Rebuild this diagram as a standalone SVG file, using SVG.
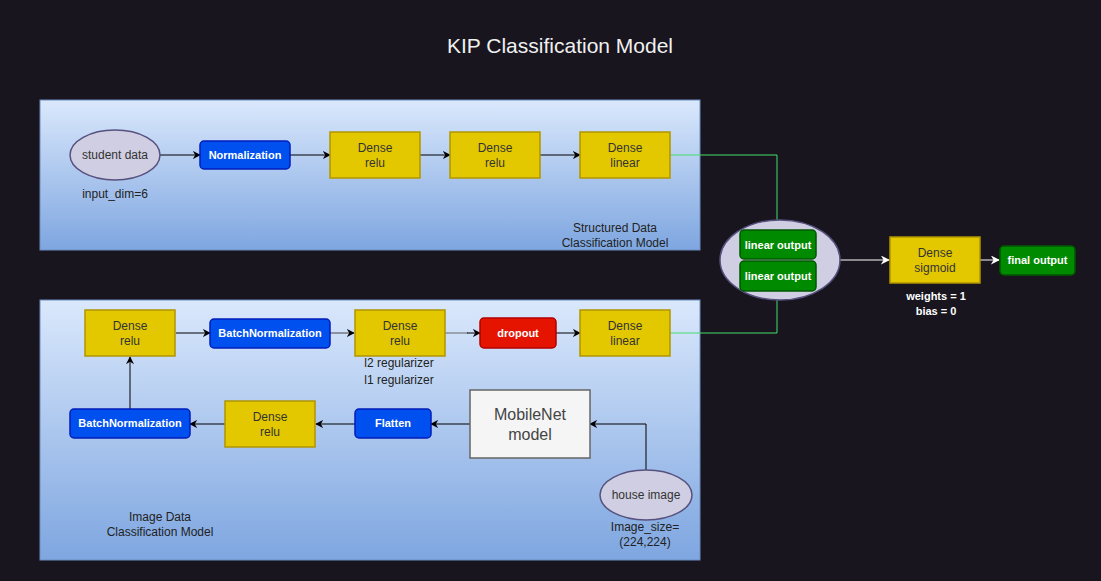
<svg xmlns="http://www.w3.org/2000/svg" width="1101" height="581" viewBox="0 0 1101 581">
<defs>
<linearGradient id="panelGrad" x1="0" y1="0" x2="0" y2="1">
<stop offset="0" stop-color="#dae8fc"/>
<stop offset="1" stop-color="#7ea6e0"/>
</linearGradient>
<marker id="arrBlack" viewBox="0 0 10 10" refX="9" refY="5" markerWidth="8" markerHeight="8" markerUnits="userSpaceOnUse" orient="auto">
<path d="M0,0 L10,5 L0,10 L3,5 z" fill="#000"/>
</marker>
<marker id="arrWhite" viewBox="0 0 10 10" refX="9" refY="5" markerWidth="9" markerHeight="9" markerUnits="userSpaceOnUse" orient="auto">
<path d="M0,0 L10,5 L0,10 L3,5 z" fill="#fff"/>
</marker>
<marker id="arrGreen" viewBox="0 0 10 10" refX="9" refY="5" markerWidth="9" markerHeight="9" markerUnits="userSpaceOnUse" orient="auto">
<path d="M0,0 L10,5 L0,10 L3,5 z" fill="#3ef06a"/>
</marker>
</defs>
<style>
text{font-family:"Liberation Sans",Arial,sans-serif;font-size:12px;text-anchor:middle}
.panel{fill:url(#panelGrad);stroke:#6c8ebf;stroke-width:1}
.yellow{fill:#e3c800;stroke:#b09500;stroke-width:1.5}
.blue{fill:#0050ef;stroke:#001dbc;stroke-width:1.5}
.red{fill:#e51400;stroke:#b20000;stroke-width:1.5}
.green{fill:#008a00;stroke:#005700;stroke-width:1.5}
.oval{fill:#d0cee2;stroke:#56517e;stroke-width:1.5}
.dark{fill:#333}
.wb{fill:#fff;font-weight:bold;font-size:11px}
.lbl{fill:#222}
.c{fill:none;stroke:#000;stroke-width:1;marker-end:url(#arrBlack)}
.cw{fill:none;stroke:#fff;stroke-width:1;marker-end:url(#arrWhite)}
.cg{fill:none;stroke:#45dd6a;stroke-width:1;marker-end:url(#arrGreen)}
</style>
<rect x="0" y="0" width="1101" height="581" fill="#18151e"/>
<text x="560" y="53" style="font-size:21px;fill:#f0f0f0">KIP Classification Model</text>

<g id="panel-structured">
<rect class="panel" x="40" y="100" width="660" height="150"/>
<text class="lbl" x="615" y="232">Structured Data</text>
<text class="lbl" x="615" y="247">Classification Model</text>
</g>
<g id="panel-image">
<rect class="panel" x="40" y="300" width="660" height="260"/>
<text class="lbl" x="160" y="521">Image Data</text>
<text class="lbl" x="160" y="536">Classification Model</text>
</g>

<g id="connectors">
<path class="c" d="M160,155 L200,155"/>
<path class="c" d="M290,155 L330,155"/>
<path class="c" d="M420,155 L450,155"/>
<path class="c" d="M540,155 L580,155"/>
<path class="cg" d="M670,155 L777,155 L777,229"/>
<path class="cg" d="M670,333 L777,333 L777,292"/>
<path class="cw" d="M840,260 L889,260"/>
<path class="cw" d="M980,260 L999,260"/>
<path class="c" d="M176,333 L210,333"/>
<path class="c" d="M330,333 L354,333" style="stroke:#444"/>
<path d="M445,333 L468,333" style="fill:none;stroke:#666;stroke-width:1"/>
<path class="c" d="M467,333 L480,333"/>
<path class="c" d="M556,333 L580,333"/>
<path class="c" d="M646,470 L646,424 L590,424"/>
<path class="c" d="M470,424 L431,424"/>
<path class="c" d="M355,424 L316,424"/>
<path class="c" d="M225,424 L190,424"/>
<path class="c" d="M130,409 L130,357"/>
</g>

<g id="student-data">
<ellipse class="oval" cx="115" cy="155" rx="45" ry="25"/>
<text class="dark" x="115" y="159">student data</text>
<text class="lbl" x="115" y="198">input_dim=6</text>
</g>
<g id="normalization">
<rect class="blue" x="200" y="141" width="90" height="28" rx="4"/>
<text class="wb" x="245" y="159">Normalization</text>
</g>
<g id="dense-relu-1">
<rect class="yellow" x="330" y="132" width="90" height="46"/>
<text class="dark" x="375" y="152">Dense</text>
<text class="dark" x="375" y="167">relu</text>
</g>
<g id="dense-relu-2">
<rect class="yellow" x="450" y="132" width="90" height="46"/>
<text class="dark" x="495" y="152">Dense</text>
<text class="dark" x="495" y="167">relu</text>
</g>
<g id="dense-linear-1">
<rect class="yellow" x="580" y="132" width="90" height="46"/>
<text class="dark" x="625" y="152">Dense</text>
<text class="dark" x="625" y="167">linear</text>
</g>

<g id="merge">
<ellipse class="oval" cx="780" cy="260" rx="60" ry="40"/>
<rect class="green" x="740" y="230" width="76" height="29" rx="4"/>
<text class="wb" x="778" y="249">linear output</text>
<rect class="green" x="740" y="261" width="76" height="30" rx="4"/>
<text class="wb" x="778" y="280">linear output</text>
</g>
<g id="dense-sigmoid">
<rect class="yellow" x="890" y="237" width="90" height="46"/>
<text class="dark" x="935" y="257">Dense</text>
<text class="dark" x="935" y="272">sigmoid</text>
<text class="wb" x="936" y="300">weights = 1</text>
<text class="wb" x="936" y="315">bias = 0</text>
</g>
<g id="final-output">
<rect class="green" x="1000" y="246" width="75" height="29" rx="4"/>
<text class="wb" x="1037.5" y="264">final output</text>
</g>

<g id="dense-relu-3">
<rect class="yellow" x="85" y="310" width="90" height="46"/>
<text class="dark" x="130" y="330">Dense</text>
<text class="dark" x="130" y="345">relu</text>
</g>
<g id="batchnorm-1">
<rect class="blue" x="210" y="319" width="120" height="29" rx="4"/>
<text class="wb" x="270" y="337">BatchNormalization</text>
</g>
<g id="dense-relu-4">
<rect class="yellow" x="355" y="310" width="90" height="46"/>
<text class="dark" x="400" y="330">Dense</text>
<text class="dark" x="400" y="345">relu</text>
<text class="lbl" x="399" y="367">l2 regularizer</text>
<text class="lbl" x="399" y="384">l1 regularizer</text>
</g>
<g id="dropout">
<rect class="red" x="480" y="318" width="76" height="30" rx="4"/>
<text class="wb" x="518" y="337">dropout</text>
</g>
<g id="dense-linear-2">
<rect class="yellow" x="580" y="310" width="90" height="46"/>
<text class="dark" x="625" y="330">Dense</text>
<text class="dark" x="625" y="345">linear</text>
</g>
<g id="batchnorm-2">
<rect class="blue" x="70" y="409" width="120" height="29" rx="4"/>
<text class="wb" x="130" y="427">BatchNormalization</text>
</g>
<g id="dense-relu-5">
<rect class="yellow" x="225" y="401" width="90" height="46"/>
<text class="dark" x="270" y="421">Dense</text>
<text class="dark" x="270" y="436">relu</text>
</g>
<g id="flatten">
<rect class="blue" x="355" y="409" width="76" height="29" rx="4"/>
<text class="wb" x="393" y="427">Flatten</text>
</g>
<g id="mobilenet">
<rect x="470" y="390" width="120" height="68" style="fill:#f5f5f5;stroke:#666;stroke-width:1.5"/>
<text x="530" y="420" style="font-size:16px;fill:#444">MobileNet</text>
<text x="530" y="440" style="font-size:16px;fill:#444">model</text>
</g>
<g id="house-image">
<ellipse class="oval" cx="646" cy="495" rx="46" ry="25"/>
<text class="dark" x="646" y="499">house image</text>
<text class="lbl" x="645" y="531">Image_size=</text>
<text class="lbl" x="645" y="546">(224,224)</text>
</g>
</svg>
